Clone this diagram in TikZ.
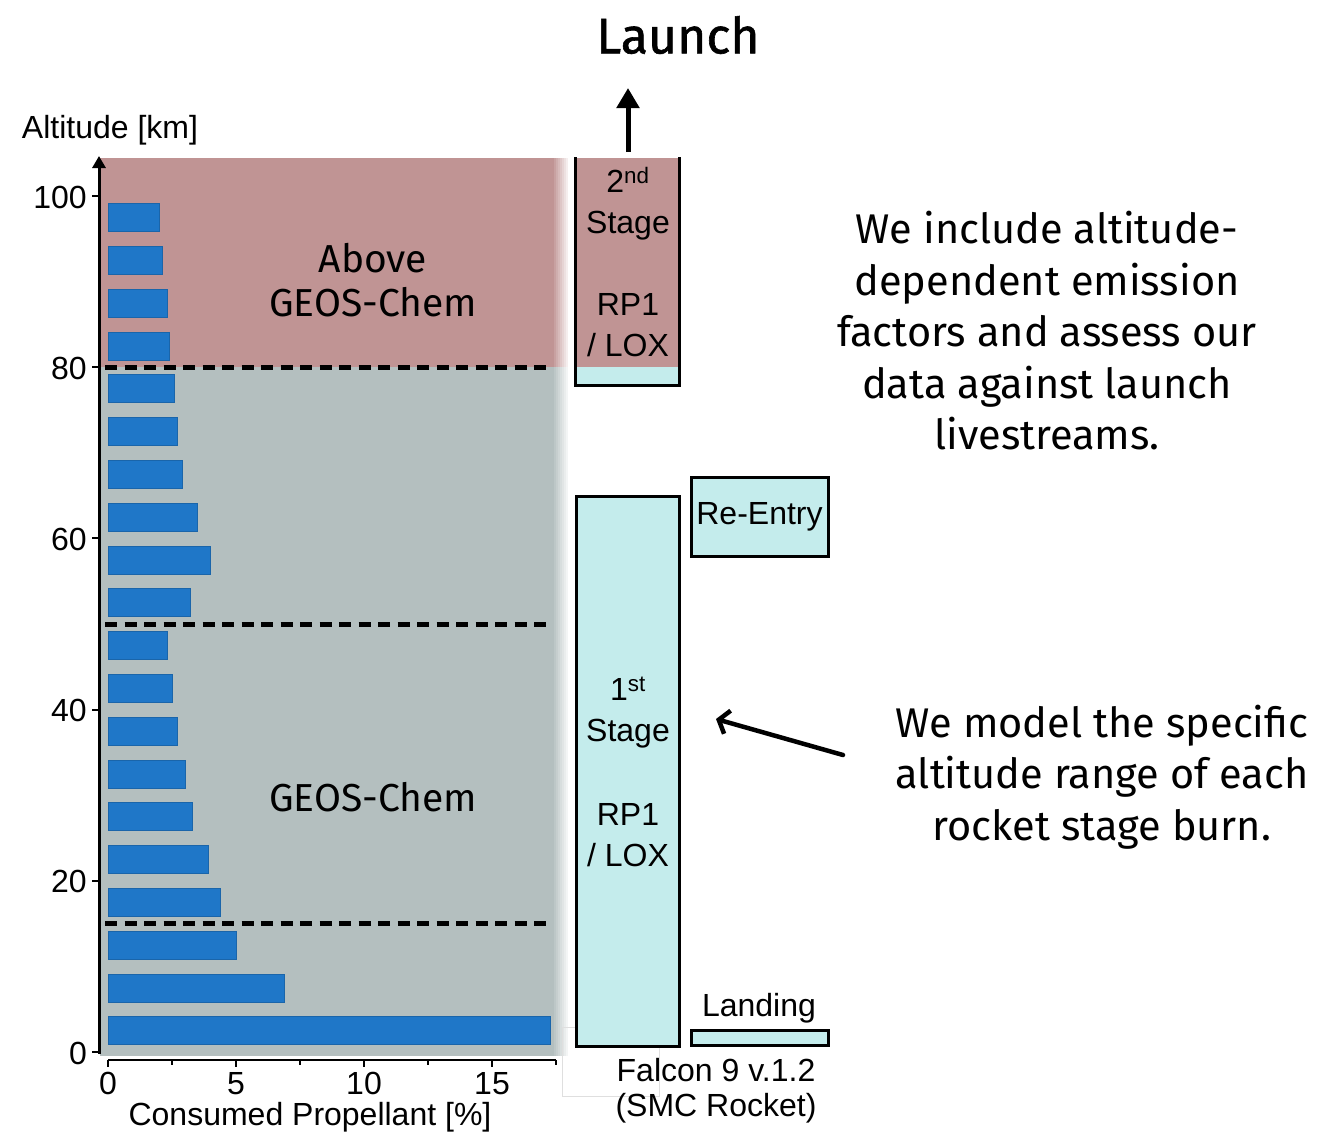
\documentclass[tikz,border=0pt]{standalone}
\usepackage{fontspec}
\setmainfont{Liberation Sans}
\newfontfamily\dinfont{Fira Sans}
\newfontfamily\dinheavy[FakeBold=1.2]{Fira Sans}
\usepackage{tikz}
\usetikzlibrary{arrows.meta, positioning}

\definecolor{abovered}{RGB}{192,148,148}
\definecolor{chemgray}{RGB}{180,191,191}
\definecolor{barblue}{RGB}{31,119,200}
\definecolor{stagecyan}{RGB}{196,236,236}

\begin{document}
\begin{tikzpicture}[x=1pt, y=-1pt,
  bar/.style={fill=barblue, draw=barblue!85!black, line width=0.5pt},
  levelline/.style={line width=5pt, dash pattern=on 12pt off 7.5pt},
  stagebox/.style={draw, line width=3pt, fill=stagecyan, inner sep=0pt},
  lbl/.style={font=\fontsize{32}{41}\selectfont, inner sep=0pt, align=center},
  zone/.style={font=\dinfont\fontsize{39}{44}\selectfont, inner sep=0pt, align=center},
  note/.style={font=\dinfont\fontsize{41.5}{51.5}\selectfont, inner sep=0pt, align=center}]
  \useasboundingbox (0,0) rectangle (1319,1132);

  % altitude zones, soft right edge
  \fill[abovered] (100,158) rectangle (552,367);
  \fill[chemgray] (100,367) rectangle (552,1056);
  \foreach \i in {0,...,7} {
    \fill[abovered!\fpeval{100-12*\i}!white] ({552+2*\i},158) rectangle ({554.2+2*\i},367);
    \fill[chemgray!\fpeval{100-12*\i}!white] ({552+2*\i},367) rectangle ({554.2+2*\i},1056);
  }
  \node[zone] (above) at (373,280) {Above\\GEOS-Chem};
  \node[zone] (chem) at (373,797) {GEOS-Chem};

  % propellant per 5 km band
  \foreach \alt/\val in {2.5/17.27, 7.5/6.9, 12.5/5.0, 17.5/4.4, 22.5/3.9, 27.5/3.3,
      32.5/3.0, 37.5/2.7, 42.5/2.5, 47.5/2.3, 52.5/3.2, 57.5/4.0, 62.5/3.5,
      67.5/2.9, 72.5/2.7, 77.5/2.6, 82.5/2.4, 87.5/2.3, 92.5/2.1, 97.5/2.0}
    \fill[bar] (108,{1052-8.56*\alt-14}) rectangle ({108+25.6*\val},{1052-8.56*\alt+14});

  \foreach \alt in {80,50,15}
    \draw[levelline] (105,{1052-8.56*\alt}) -- (550,{1052-8.56*\alt});

  % axes
  \foreach \alt in {0,20,...,100} {
    \draw[line width=2pt] (92,{1052-8.56*\alt}) -- (99,{1052-8.56*\alt});
    \node[lbl, anchor=east, text depth=0pt] (ytick\alt) at (87,{1052-8.56*\alt+1}) {\alt};
  }
  \draw[line width=2pt] (108,1060) -- (556,1060);
  \foreach \p in {0,5,10,15} {
    \draw[line width=1.5pt] ({108+25.6*\p},1060) -- ({108+25.6*\p},1067);
    \node[lbl, text depth=0pt] (xtick\p) at ({108+25.6*\p},1083) {\p};
  }
  \foreach \p in {2.5,7.5,12.5,17.5}
    \draw[line width=1.5pt] ({108+25.6*\p},1060) -- ({108+25.6*\p},1065);
  \node[lbl] (ylabel) at (110,130) {Altitude [km]};
  \node[lbl] (xlabel) at (310,1117) {Consumed Propellant [\%]};

  % 2nd stage
  \fill[abovered] (575,158) rectangle (679,367);
  \fill[stagecyan] (575,367) rectangle (679,385);
  \draw[line width=3pt] (575,157) -- (575,385) -- (679,385) -- (679,157);
  \node[lbl] (s2top) at (628,204) {2\textsuperscript{nd}\\Stage};
  \node[lbl] (s2fuel) at (628,325) {RP1\\/ LOX};
  \coordinate (s2exit) at (628,152);
  \coordinate (launchtip) at (628,88);
  \draw[line width=5pt, -{Triangle[length=20pt,width=22pt]}] (s2exit) -- (launchtip);
  \node[font=\dinheavy\fontsize{50}{50}\selectfont, inner sep=0pt] (launch) at (678,35) {Launch};

  % 1st stage
  \draw[gray!25, line width=1pt] (562,1027) rectangle (659,1096);
  \node[stagebox, minimum width=103pt, minimum height=550pt] (stage1) at (627.5,771) {};
  \node[lbl] (s1top) at (628,713) {1\textsuperscript{st}\\Stage};
  \node[lbl] (s1fuel) at (628,835) {RP1\\/ LOX};
  \node[stagebox, lbl, minimum width=137pt, minimum height=79pt] (reentry) at (759.5,516.5) {Re-Entry};
  \node[stagebox, minimum width=137pt, minimum height=15pt] (landing) at (759.5,1038) {};
  \node[lbl] (landtxt) at (759,1008) {Landing};
  \node[lbl, font=\fontsize{32}{35}\selectfont] (falcon) at (716,1091) {Falcon 9 v.1.2\\(SMC Rocket)};

  % notes
  \node[note] (note1) at (1047,331) {We include altitude-\\dependent emission\\factors and assess our\\data against launch\\livestreams.};
  \node[note] (note2) at (1102,777) {We model the specific\\altitude range of each\\rocket stage burn.};
  \coordinate (armtail) at (843,755);
  \coordinate (armtip) at (716,719);
  \draw[line width=4.5pt, line cap=round, -{Straight Barb[length=9pt,width=24pt]}] (armtail) -- (armtip);

  % altitude axis on top
  \coordinate (yorigin) at (99,1053.5);
  \coordinate (ytip) at (99,156);
  \draw[line width=3pt, -{Triangle[length=12pt,width=13pt]}] (yorigin) -- (ytip);
\end{tikzpicture}
\end{document}
